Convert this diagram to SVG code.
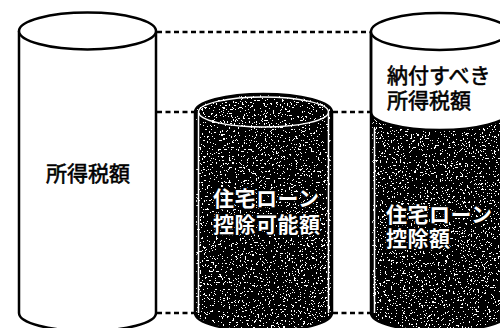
<svg xmlns="http://www.w3.org/2000/svg" width="500" height="328" viewBox="0 0 500 328">
<defs>
<filter id="speck" x="0" y="0" width="1" height="1" color-interpolation-filters="sRGB">
<feTurbulence type="fractalNoise" baseFrequency="0.55" numOctaves="3" seed="7" result="n"/>
<feColorMatrix in="n" type="matrix" values="0 0 0 0 1  0 0 0 0 1  0 0 0 0 1  1 0 0 0 0" result="w"/>
<feComponentTransfer in="w" result="t"><feFuncA type="discrete" tableValues="0 0 0 0 0 0 0 0 0 0 0 0 0 1 1 1 1 1 1 1"/></feComponentTransfer>
<feComposite in="t" in2="SourceAlpha" operator="in" result="s"/>
<feMerge><feMergeNode in="SourceGraphic"/><feMergeNode in="s"/></feMerge>
</filter>
</defs>
<style>
.out{fill:#fff;stroke:#000;stroke-width:2.5}
.dark{fill:#000;filter:url(#speck)}
.line{fill:none;stroke:#000;stroke-width:2.5}
.rim{fill:none;stroke:#fff;stroke-width:1.5}
.dash{fill:none;stroke:#000;stroke-width:2.5;stroke-dasharray:5 3.5}
.t{font-family:"Noto Sans CJK JP","Noto Sans CJK SC",sans-serif;font-size:21px;fill:#000;stroke:#000;stroke-width:0.6}
.w{font-family:"Noto Sans CJK JP","Noto Sans CJK SC",sans-serif;font-size:21px;letter-spacing:0.5px;font-weight:bold;fill:#fff;stroke:#000;stroke-width:3;paint-order:stroke;stroke-linejoin:round}
</style>
<rect width="500" height="328" fill="#fff"/>
<g id="connectors">
<line class="dash" x1="157" y1="32" x2="370" y2="32"/>
<line class="dash" x1="157" y1="112" x2="194" y2="112"/>
<line class="dash" x1="333" y1="112" x2="370" y2="112"/>
<line class="dash" x1="157" y1="313" x2="194" y2="313"/>
<line class="dash" x1="333" y1="313" x2="370" y2="313"/>
</g>
<g id="cyl1">
<path class="out" d="M19,31 V313 A68.5,18 0 0 0 156,313 V31"/>
<ellipse class="out" cx="87.5" cy="31" rx="68.5" ry="18.5"/>
<text class="t" x="88" y="181" text-anchor="middle">所得税額</text>
</g>
<g id="cyl2">
<path class="dark" d="M195,112 A68.5,18 0 0 1 332,112 V313 A68.5,18 0 0 1 195,313 Z"/>
<path class="line" d="M195,112 A68.5,18 0 0 1 332,112 V313 A68.5,18 0 0 1 195,313 Z"/>
<path class="rim" d="M198.5,113 V313 M328.5,113 V313"/>
<ellipse class="rim" cx="263.5" cy="112" rx="65" ry="15"/>
<text class="w"><tspan x="213" y="206">住宅ローン</tspan><tspan x="213" y="232">控除可能額</tspan></text>
</g>
<g id="cyl3">
<path class="dark" d="M371,112 A68.5,18 0 0 0 508,112 V313 A68.5,18 0 0 1 371,313 Z"/>
<path class="out" d="M371,32 V112 A68.5,18 0 0 0 508,112 V32"/>
<path class="line" d="M371,32 V313 A68.5,18 0 0 0 508,313 V32"/>
<path class="rim" d="M374.5,128 V313"/>
<ellipse class="out" cx="439.5" cy="31.5" rx="68.5" ry="18.5"/>
<text class="t"><tspan x="387" y="83">納付すべき</tspan><tspan x="387" y="108">所得税額</tspan></text>
<text class="w"><tspan x="386" y="222">住宅ローン</tspan><tspan x="386" y="246">控除額</tspan></text>
</g>
</svg>
